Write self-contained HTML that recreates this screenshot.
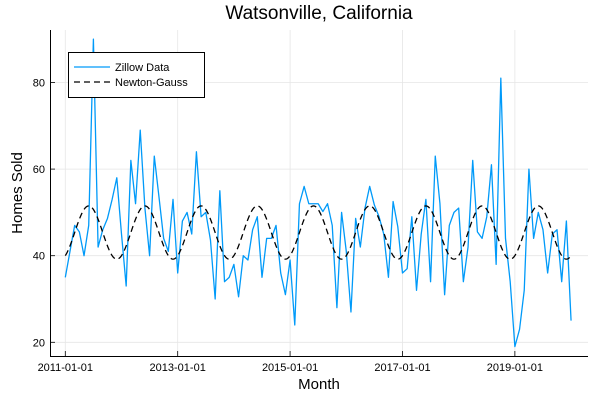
<!DOCTYPE html>
<html><head><meta charset="utf-8"><style>
html,body{margin:0;padding:0;background:#fff;}
svg{display:block;font-family:"Liberation Sans","DejaVu Sans",sans-serif;}
</style></head><body>
<svg id="chart" width="600" height="400" viewBox="0 0 600 400">
<text x="319" y="19" text-anchor="middle" font-size="19">Watsonville, California</text>
<g id="grid"></g>
<g id="ticks"></g>
<g id="series"></g>
<line x1="50.5" y1="30" x2="50.5" y2="356" stroke="#000" stroke-width="1"/>
<line x1="50" y1="356.5" x2="588" y2="356.5" stroke="#000" stroke-width="1"/>
<text x="319" y="389" text-anchor="middle" font-size="15">Month</text>
<text x="22" y="193" text-anchor="middle" font-size="15" transform="rotate(-90 22 193)">Homes Sold</text>
<g>
<rect x="68.5" y="52.5" width="136" height="45" fill="#fff" stroke="#000" stroke-width="1"/>
<g>
<line x1="74" y1="67" x2="110" y2="67" stroke="#009af9" stroke-width="1.3"/>
<text x="115" y="71" font-size="11">Zillow Data</text></g>
<g>
<line x1="74" y1="82" x2="110" y2="82" stroke="#000" stroke-width="1.3" stroke-dasharray="6,4"/>
<text x="115" y="86" font-size="11">Newton-Gauss</text></g>
</g>
</svg>
<script>
const homesSold = [35,41,47,45.5,40,47,90,42,46,48.6,53,58,45,33,62,52,69,51,40,63,53.6,44,41,53,36,
48,50,45,64,49,50,43.6,30,55,34,35,38,30.5,40,39,46,49,35,44,44,47,36,31,39,24,52,56,52,52,52,
50.2,52,47,28,50,41,27,48.6,42,51,56,51.7,49,45,35,52.5,46.7,36,37,49,32,45,53,34,63,52,
31,47,50,51,34,42,62,45.5,44,49,61,38,81,44,34,19,23,32,60,44,50,46,36,45,46,34,48,25];
const startYear = 2011;
const fitMean = 45.35;
const fitAmp = 6.15;
const fitPeakMonth = 5;
const fitPeriod = 12;
const yTicks = [20,40,60,80];
const xTickLabels = ["2011-01-01","2013-01-01","2015-01-01","2017-01-01","2019-01-01"];
const xTickMonths = [0,24,48,72,96];

const NS="http://www.w3.org/2000/svg";
const xScale = m => 65.3 + m*4.683;
const yScale = v => 255.7 - (v-40)*4.33;
function mk(tag, attrs, parent){const e=document.createElementNS(NS,tag);for(const k in attrs)e.setAttribute(k,attrs[k]);parent.appendChild(e);return e;}
const grid=document.getElementById('grid'), ticks=document.getElementById('ticks'), series=document.getElementById('series');
yTicks.forEach(v=>{
  const y=yScale(v);
  const g=mk('line',{x1:50,x2:588,y1:y,y2:y,stroke:'#e6e6e6','stroke-width':0.8},grid);
  
  
  const t=mk('line',{x1:50,x2:55,y1:y,y2:y,stroke:'#000','stroke-width':0.8},ticks);
  
  
  const l=mk('text',{x:45,y:y+4,'text-anchor':'end','font-size':11},ticks);
  l.textContent=v;
  
  
});
xTickMonths.forEach((m,i)=>{
  const x=xScale(m);
  const g=mk('line',{x1:x,x2:x,y1:30,y2:356,stroke:'#e6e6e6','stroke-width':0.8},grid);
  
  
  const t=mk('line',{x1:x,x2:x,y1:351,y2:356,stroke:'#000','stroke-width':0.8},ticks);
  
  
  const l=mk('text',{x:x,y:371,'text-anchor':'middle','font-size':11},ticks);
  l.textContent=xTickLabels[i];
  
  
});
const pts=homesSold.map((v,i)=>xScale(i).toFixed(2)+','+yScale(v).toFixed(2)).join(' ');
const line=mk('polyline',{points:pts,fill:'none',stroke:'#009af9','stroke-width':1.3,'stroke-linejoin':'round'},series);


const fp=[];
for(let s=0;s<=(homesSold.length-1)*8;s++){const m=s/8;const v=fitMean+fitAmp*Math.cos(2*Math.PI*(m-fitPeakMonth)/fitPeriod);fp.push(xScale(m).toFixed(2)+','+yScale(v).toFixed(2));}
const fit=mk('polyline',{points:fp.join(' '),fill:'none',stroke:'#000','stroke-width':1.3,'stroke-dasharray':'6,4'},series);


</script>
</body></html>
